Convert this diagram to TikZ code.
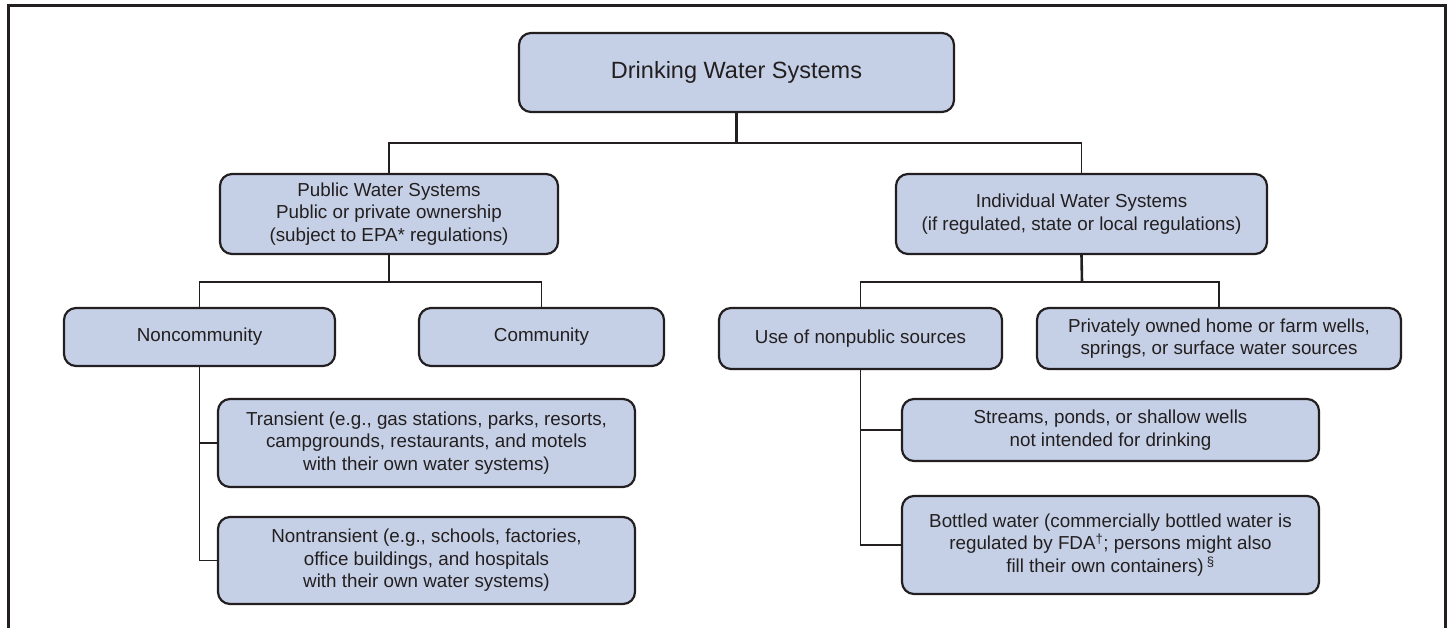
\documentclass[tikz,border=0pt]{standalone}
\usepackage{fontspec}
\setmainfont{Liberation Sans}
\usetikzlibrary{calc}
\definecolor{boxfill}{HTML}{C5D0E6}
\definecolor{ink}{HTML}{231F20}
\begin{document}
\begin{tikzpicture}[x=1pt,y=-1pt,
  wbox/.style={draw=ink, fill=boxfill, line width=2.2pt, rounded corners=12pt,
    align=center, inner sep=0pt, text=ink,
    font=\fontsize{18.8}{22.6}\selectfont},
  conn/.style={draw=ink, line width=1.9pt},
  stem/.style={draw=ink, line width=2.6pt}]
\useasboundingbox (0,0) rectangle (1448,628);
\draw[ink, line width=3pt] (8,628) -- (8,6) -- (1445,6) -- (1445,628);

\node[wbox, minimum width=435pt, minimum height=79pt, font=\fontsize{23.5}{28}\selectfont] (top) at (736.5,72.5) {Drinking Water Systems};
\node[wbox, minimum width=338pt, minimum height=80pt] (pub) at (389,214) {Public Water Systems\\Public or private ownership\\(subject to EPA* regulations)};
\node[wbox, minimum width=371pt, minimum height=80pt] (ind) at (1081.5,214) {Individual Water Systems\\(if regulated, state or local regulations)};
\node[wbox, minimum width=271pt, minimum height=58pt] (nonc) at (199.5,337) {Noncommunity};
\node[wbox, minimum width=245pt, minimum height=58pt] (comm) at (541.5,337) {Community};
\node[wbox, minimum width=283pt, minimum height=61pt] (use) at (860.5,338.5) {Use of nonpublic sources};
\node[wbox, minimum width=364pt, minimum height=61pt] (priv) at (1219,338.5) {Privately owned home or farm wells,\\springs, or surface water sources};
\node[wbox, minimum width=417pt, minimum height=88pt] (trans) at (426.5,443) {Transient (e.g., gas stations, parks, resorts,\\campgrounds, restaurants, and motels\\with their own water systems)};
\node[wbox, minimum width=417pt, minimum height=87pt] (nontr) at (426.5,560.5) {Nontransient (e.g., schools, factories,\\office buildings, and hospitals\\with their own water systems)};
\node[wbox, minimum width=417pt, minimum height=62pt] (streams) at (1110.5,430) {Streams, ponds, or shallow wells\\not intended for drinking};
\node[wbox, minimum width=417pt, minimum height=98pt] (bottled) at (1110.5,545) {Bottled water (commercially bottled water is\\regulated by FDA\textsuperscript{†}; persons might also\\fill their own containers)\,\textsuperscript{§}};

\coordinate (j1) at (736.5,143);
\coordinate (j2) at (389,282);
\coordinate (j3) at (1082,282);

\draw[stem] (top.south) -- (j1);
\draw[conn] (pub.north) -- (pub.north |- j1) -- (ind.north |- j1) -- (ind.north);

\draw[stem] (pub.south) -- (j2);
\draw[conn] (nonc.north) -- (nonc.north |- j2) -- (comm.north |- j2) -- (comm.north);

\draw[stem] (ind.south) -- (j3);
\draw[conn] (use.north) -- (use.north |- j3) -- (priv.north |- j3) -- (priv.north);

\draw[conn] (nonc.south) |- (nontr.west);
\draw[conn] (nonc.south |- trans.west) -- (trans.west);

\draw[conn] (use.south) |- (bottled.west);
\draw[conn] (use.south |- streams.west) -- (streams.west);
\end{tikzpicture}
\end{document}
